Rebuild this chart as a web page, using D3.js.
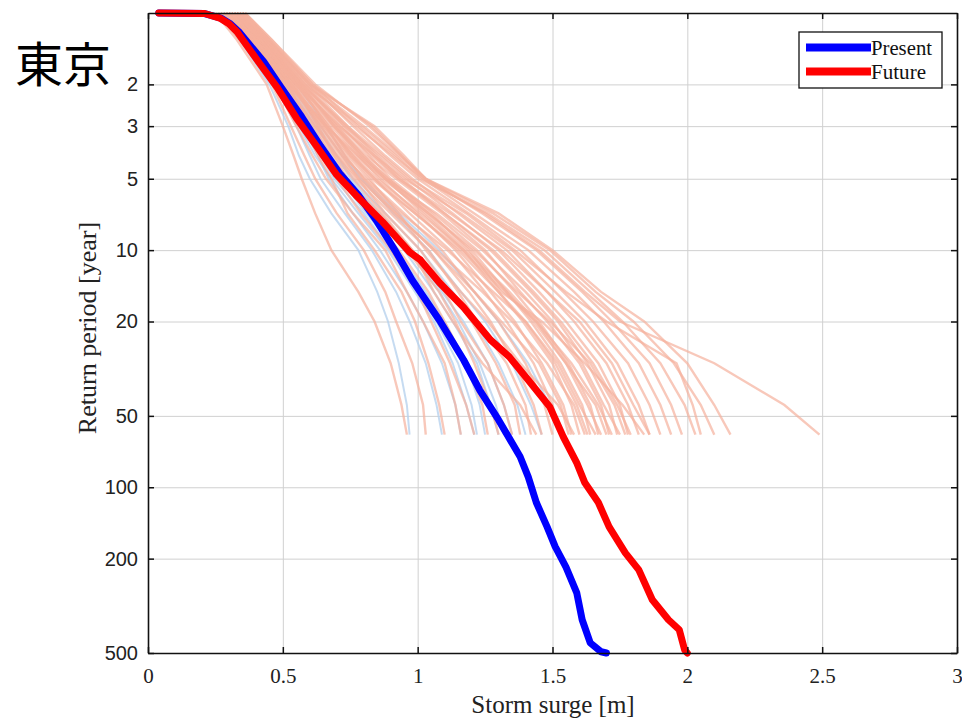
<!DOCTYPE html>
<html>
<head>
<meta charset="utf-8">
<title>東京 storm surge</title>
<script src="https://d3js.org/d3.v7.min.js"></script>
<style>
  body { margin: 0; background: #fff; }
  svg { display: block; }
</style>
</head>
<body>
<svg width="962" height="720"></svg>
<script>
// axis ticks
var xTicks = [0, 0.5, 1, 1.5, 2, 2.5, 3];
var xTickLabels = ["0", "0.5", "1", "1.5", "2", "2.5", "3"];
var yTicks = [2, 3, 5, 10, 20, 50, 100, 200, 500];

// thick lines: storm surge (m) against return period (year)
var presentSurge = [0.04, 0.21, 0.27, 0.305, 0.34, 0.43, 0.49, 0.57, 0.64, 0.71, 0.78, 0.85, 0.92, 0.98, 1.08, 1.17, 1.23, 1.30, 1.38, 1.41, 1.44, 1.48, 1.51, 1.55, 1.59, 1.61, 1.64, 1.68, 1.70];
var presentRP    = [1.0, 1.005, 1.05, 1.11, 1.21, 1.61, 2.03, 2.74, 3.64, 4.73, 5.85, 7.6, 10.2, 13.4, 19.7, 29.0, 38.9, 52.0, 74.4, 90.4, 116, 147, 178, 217, 279, 362, 453, 494, 500];
var futureSurge  = [0.04, 0.21, 0.266, 0.30, 0.33, 0.41, 0.48, 0.55, 0.63, 0.70, 0.77, 0.87, 0.97, 1.01, 1.08, 1.17, 1.27, 1.34, 1.41, 1.49, 1.54, 1.59, 1.62, 1.67, 1.71, 1.77, 1.82, 1.87, 1.93, 1.97, 1.99, 2.00];
var futureRP     = [1.0, 1.005, 1.05, 1.11, 1.20, 1.61, 2.07, 2.77, 3.71, 4.82, 5.85, 7.6, 10.2, 11.0, 13.7, 17.4, 23.9, 28.2, 35.3, 45.8, 61.3, 78.9, 95.8, 116, 147, 189, 223, 298, 362, 399, 485, 500];

// ensemble members (thin lines), surge read at these return periods
var ensRP = [1, 1.3, 2, 3, 4, 5, 7, 10, 15, 20, 30, 45, 60];

var presentEnsemble = [
  [0.26,0.34,0.45,0.52,0.56,0.60,0.68,0.78,0.85,0.89,0.93,0.96,0.97],
  [0.28,0.36,0.47,0.55,0.60,0.64,0.73,0.83,0.92,0.97,1.03,1.07,1.09],
  [0.30,0.38,0.49,0.57,0.63,0.67,0.76,0.86,0.96,1.02,1.09,1.14,1.16],
  [0.27,0.35,0.47,0.56,0.62,0.68,0.78,0.89,0.99,1.06,1.13,1.18,1.21],
  [0.31,0.40,0.51,0.60,0.66,0.71,0.81,0.92,1.03,1.10,1.18,1.23,1.25],
  [0.29,0.38,0.50,0.59,0.66,0.72,0.83,0.95,1.06,1.13,1.22,1.27,1.30],
  [0.32,0.41,0.53,0.63,0.70,0.75,0.86,0.98,1.09,1.17,1.26,1.32,1.35],
  [0.30,0.39,0.52,0.62,0.70,0.76,0.88,1.01,1.13,1.21,1.30,1.37,1.40],
  [0.33,0.42,0.55,0.66,0.73,0.79,0.91,1.04,1.16,1.25,1.35,1.42,1.46],
  [0.31,0.40,0.53,0.64,0.72,0.79,0.93,1.08,1.21,1.30,1.41,1.49,1.53],
  [0.28,0.37,0.49,0.58,0.64,0.69,0.80,0.90,1.00,1.07,1.15,1.20,1.22],
  [0.30,0.39,0.51,0.61,0.68,0.74,0.85,0.97,1.08,1.15,1.23,1.29,1.32]
];

var futureEnsemble = [
  [0.25,0.33,0.44,0.50,0.54,0.57,0.62,0.68,0.78,0.84,0.90,0.94,0.96],
  [0.27,0.35,0.46,0.53,0.58,0.62,0.70,0.80,0.88,0.92,0.98,1.02,1.03],
  [0.30,0.38,0.50,0.58,0.63,0.68,0.74,0.84,0.94,0.99,1.04,1.08,1.10],
  [0.26,0.34,0.47,0.55,0.61,0.66,0.76,0.88,0.96,1.02,1.10,1.14,1.16],
  [0.31,0.40,0.52,0.60,0.66,0.70,0.79,0.90,1.00,1.05,1.12,1.18,1.21],
  [0.29,0.37,0.49,0.57,0.64,0.71,0.82,0.93,1.04,1.10,1.18,1.24,1.26],
  [0.33,0.42,0.54,0.63,0.69,0.74,0.83,0.96,1.08,1.14,1.21,1.27,1.30],
  [0.28,0.38,0.50,0.59,0.67,0.73,0.86,0.98,1.10,1.16,1.26,1.32,1.35],
  [0.32,0.41,0.53,0.64,0.72,0.78,0.88,1.01,1.12,1.20,1.29,1.36,1.38],
  [0.30,0.39,0.51,0.62,0.70,0.77,0.90,1.04,1.15,1.22,1.33,1.40,1.42],
  [0.34,0.43,0.56,0.66,0.73,0.80,0.92,1.06,1.19,1.27,1.36,1.43,1.46],
  [0.29,0.39,0.52,0.63,0.72,0.81,0.95,1.09,1.21,1.30,1.40,1.47,1.50],
  [0.33,0.42,0.55,0.67,0.76,0.84,0.97,1.12,1.25,1.33,1.43,1.50,1.53],
  [0.31,0.41,0.54,0.68,0.78,0.86,1.00,1.14,1.27,1.36,1.46,1.54,1.57],
  [0.35,0.44,0.57,0.69,0.79,0.88,1.02,1.17,1.30,1.39,1.50,1.57,1.60],
  [0.30,0.40,0.53,0.66,0.77,0.87,1.04,1.20,1.33,1.42,1.53,1.61,1.64],
  [0.34,0.44,0.58,0.72,0.82,0.90,1.06,1.22,1.36,1.45,1.56,1.64,1.67],
  [0.32,0.42,0.56,0.70,0.81,0.92,1.09,1.25,1.38,1.48,1.60,1.68,1.71],
  [0.36,0.45,0.59,0.74,0.85,0.94,1.10,1.27,1.42,1.52,1.63,1.71,1.74],
  [0.33,0.43,0.57,0.73,0.86,0.96,1.13,1.30,1.45,1.55,1.67,1.75,1.78],
  [0.35,0.45,0.60,0.76,0.88,0.98,1.15,1.33,1.48,1.58,1.70,1.78,1.82],
  [0.31,0.41,0.55,0.71,0.84,0.95,1.16,1.35,1.51,1.62,1.74,1.82,1.86],
  [0.36,0.46,0.61,0.78,0.90,1.00,1.19,1.38,1.54,1.65,1.78,1.86,1.90],
  [0.34,0.44,0.59,0.77,0.91,1.02,1.21,1.41,1.58,1.69,1.82,1.90,1.94],
  [0.35,0.45,0.60,0.80,0.93,1.03,1.24,1.44,1.61,1.72,1.86,1.94,1.98],
  [0.33,0.43,0.58,0.79,0.92,1.01,1.26,1.47,1.64,1.76,1.90,1.99,2.03],
  [0.36,0.46,0.62,0.82,0.94,1.03,1.28,1.49,1.66,1.80,1.95,2.05,2.10],
  [0.34,0.44,0.60,0.84,0.95,1.03,1.30,1.50,1.68,1.84,2.00,2.10,2.16],
  [0.35,0.45,0.61,0.83,0.94,1.02,1.25,1.45,1.62,1.75,2.10,2.36,2.49],
  [0.32,0.42,0.57,0.74,0.87,0.97,1.18,1.36,1.55,1.70,1.96,2.02,2.05],
  [0.27,0.36,0.48,0.60,0.69,0.76,0.87,0.98,1.06,1.13,1.24,1.38,1.44],
  [0.30,0.40,0.54,0.65,0.74,0.82,0.93,1.03,1.16,1.26,1.38,1.52,1.58],
  [0.32,0.41,0.55,0.67,0.75,0.83,0.99,1.16,1.32,1.44,1.55,1.66,1.70],
  [0.29,0.38,0.51,0.62,0.71,0.79,0.91,1.07,1.24,1.35,1.48,1.58,1.62],
  [0.33,0.43,0.56,0.70,0.80,0.89,1.05,1.19,1.31,1.46,1.62,1.76,1.84],
  [0.31,0.40,0.53,0.64,0.73,0.80,0.94,1.11,1.28,1.40,1.52,1.60,1.66],
  [0.30,0.39,0.52,0.65,0.75,0.84,0.99,1.15,1.30,1.40,1.51,1.59,1.63],
  [0.32,0.42,0.56,0.69,0.79,0.88,1.03,1.18,1.34,1.44,1.57,1.67,1.72],
  [0.34,0.43,0.57,0.71,0.83,0.93,1.10,1.28,1.43,1.53,1.65,1.74,1.79],
  [0.29,0.38,0.52,0.66,0.78,0.88,1.07,1.24,1.40,1.50,1.61,1.69,1.75],
  [0.33,0.42,0.55,0.69,0.80,0.89,1.04,1.21,1.37,1.49,1.64,1.73,1.77],
  [0.31,0.40,0.53,0.66,0.76,0.85,1.01,1.17,1.33,1.43,1.55,1.63,1.68],
  [0.35,0.44,0.58,0.73,0.84,0.93,1.12,1.31,1.48,1.60,1.72,1.80,1.86],
  [0.28,0.37,0.50,0.61,0.70,0.78,0.92,1.06,1.21,1.31,1.45,1.53,1.56]
];

var svg = d3.select("svg");
var plotLeft = 148, plotRight = 957, plotTop = 13, plotBottom = 653;

var x = d3.scaleLinear().domain([0, 3]).range([plotLeft, plotRight]);
var y = d3.scaleLog().domain([1, 500]).range([plotTop, plotBottom]);

// grid
svg.append("g")
   .attr("class", "grid")
   .attr("transform", "translate(0," + plotBottom + ")")
   .call(d3.axisBottom(x).tickValues(xTicks).tickSize(-(plotBottom - plotTop)).tickFormat(""))
   .call(function(g) { g.select(".domain").remove(); });
svg.append("g")
   .attr("class", "grid")
   .attr("transform", "translate(" + plotLeft + ",0)")
   .call(d3.axisLeft(y).tickValues(yTicks).tickSize(-(plotRight - plotLeft)).tickFormat(""))
   .call(function(g) { g.select(".domain").remove(); });
svg.selectAll(".grid line").attr("stroke", "#d0d0d0").attr("stroke-width", 1);

var line = d3.line()
    .x(function(d) { return x(d[0]); })
    .y(function(d) { return y(d[1]); });

function members(arr) {
  return arr.map(function(m) { return m.map(function(v, i) { return [v, ensRP[i]]; }); });
}

svg.append("g").selectAll("path")
   .data(members(presentEnsemble))
   .enter().append("path")
   .attr("d", line)
   .attr("fill", "none")
   .attr("stroke", "#b8d2ee")
   .attr("stroke-width", 2)
   .attr("stroke-opacity", 0.8);

svg.append("g").selectAll("path")
   .data(members(futureEnsemble))
   .enter().append("path")
   .attr("d", line)
   .attr("fill", "none")
   .attr("stroke", "#f5b09c")
   .attr("stroke-width", 2.4)
   .attr("stroke-opacity", 0.7);

var present = presentSurge.map(function(v, i) { return [v, presentRP[i]]; });
var future = futureSurge.map(function(v, i) { return [v, futureRP[i]]; });

svg.append("path").datum(present)
   .attr("d", line).attr("fill", "none")
   .attr("stroke", "#0000ff").attr("stroke-width", 7)
   .attr("stroke-linejoin", "round").attr("stroke-linecap", "round");
svg.append("path").datum(future)
   .attr("d", line).attr("fill", "none")
   .attr("stroke", "#ff0000").attr("stroke-width", 7)
   .attr("stroke-linejoin", "round").attr("stroke-linecap", "round");

// axes with inward ticks
var xAxis = svg.append("g")
   .attr("class", "axis")
   .attr("transform", "translate(0," + plotBottom + ")")
   .call(d3.axisBottom(x).tickValues(xTicks).tickSizeInner(-6).tickSizeOuter(0).tickPadding(15)
         .tickFormat(function(d, i) { return xTickLabels[i]; }));
xAxis.selectAll("text").attr("font-family", "Liberation Serif").attr("font-size", "21px").attr("fill", "#222");

var yAxis = svg.append("g")
   .attr("class", "axis")
   .attr("transform", "translate(" + plotLeft + ",0)")
   .call(d3.axisLeft(y).tickValues(yTicks).tickSizeInner(-6).tickSizeOuter(0).tickPadding(10)
         .tickFormat(d3.format("d")));
yAxis.selectAll("text").attr("font-family", "Liberation Sans").attr("font-size", "20px").attr("fill", "#222");

svg.append("g")
   .attr("class", "axis")
   .attr("transform", "translate(0," + plotTop + ")")
   .call(d3.axisTop(x).tickValues(xTicks).tickSizeInner(-6).tickSizeOuter(0).tickFormat(""));
svg.append("g")
   .attr("class", "axis")
   .attr("transform", "translate(" + plotRight + ",0)")
   .call(d3.axisRight(y).tickValues(yTicks).tickSizeInner(-6).tickSizeOuter(0).tickFormat(""));

svg.selectAll(".axis .domain").attr("stroke", "#111").attr("stroke-width", 1.6);
svg.selectAll(".axis .tick line").attr("stroke", "#111").attr("stroke-width", 1.5);

// axis titles
svg.append("text")
   .attr("x", 553).attr("y", 713)
   .attr("text-anchor", "middle")
   .attr("font-family", "Liberation Serif").attr("font-size", "25px").attr("fill", "#222")
   .text("Storm surge [m]");
svg.append("text")
   .attr("transform", "translate(96,328) rotate(-90)")
   .attr("text-anchor", "middle")
   .attr("font-family", "Liberation Serif").attr("font-size", "26px").attr("fill", "#222")
   .text("Return period [year]");

// city label
svg.append("text")
   .attr("x", 15).attr("y", 82)
   .attr("font-family", "Noto Sans CJK JP").attr("font-size", "48px").attr("fill", "#000")
   .text("東京");

// legend
var legend = svg.append("g");
legend.append("rect")
   .attr("x", 799).attr("y", 32).attr("width", 143).attr("height", 56)
   .attr("fill", "#fff").attr("stroke", "#111").attr("stroke-width", 1.3);
var legendItems = [["Present", "#0000ff", 47.5, 61], ["Future", "#ff0000", 71.5, 55]];
legendItems.forEach(function(it) {
  legend.append("line")
     .attr("x1", 806).attr("x2", 871).attr("y1", it[2]).attr("y2", it[2])
     .attr("stroke", it[1]).attr("stroke-width", 8);
  legend.append("text")
     .attr("x", 871).attr("y", it[2] + 7)
     .attr("textLength", it[3]).attr("lengthAdjust", "spacingAndGlyphs")
     .attr("font-family", "Liberation Serif").attr("font-size", "21px").attr("fill", "#111")
     .text(it[0]);
});
</script>
</body>
</html>
